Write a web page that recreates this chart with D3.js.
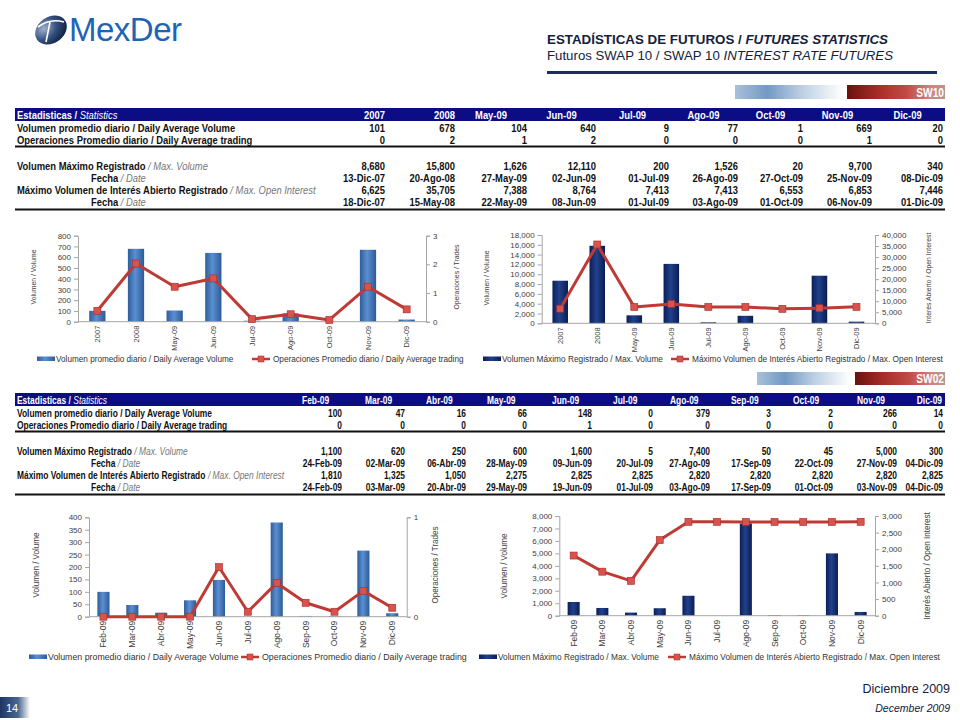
<!DOCTYPE html>
<meta charset="utf-8">
<body style="margin:0;background:#fff">
<script src="https://d3js.org/d3.v7.min.js"></script>
<script>

// SW10 data
var sw10Periods = ['2007','2008','May-09','Jun-09','Jul-09','Ago-09','Oct-09','Nov-09','Dic-09'];
var sw10AvgVolume = [101, 678, 104, 640, 9, 77, 1, 669, 20];
var sw10AvgTrades = [0, 2, 1, 2, 0, 0, 0, 1, 0];
var sw10AvgTradesChart = [0.38, 2.03, 1.22, 1.51, 0.09, 0.26, 0.06, 1.22, 0.43];
var sw10MaxVolume = [8680, 15800, 1626, 12110, 200, 1526, 20, 9700, 340];
var sw10MaxVolumeDate = ['13-Dic-07','20-Ago-08','27-May-09','02-Jun-09','01-Jul-09','26-Ago-09','27-Oct-09','25-Nov-09','08-Dic-09'];
var sw10MaxOI = [6625, 35705, 7388, 8764, 7413, 7413, 6553, 6853, 7446];
var sw10MaxOIDate = ['18-Dic-07','15-May-08','22-May-09','08-Jun-09','01-Jul-09','03-Ago-09','01-Oct-09','06-Nov-09','01-Dic-09'];

// SW02 data
var sw02Periods = ['Feb-09','Mar-09','Abr-09','May-09','Jun-09','Jul-09','Ago-09','Sep-09','Oct-09','Nov-09','Dic-09'];
var sw02AvgVolume = [100, 47, 16, 66, 148, 0, 379, 3, 2, 266, 14];
var sw02AvgTrades = [0, 0, 0, 0, 1, 0, 0, 0, 0, 0, 0];
var sw02AvgTradesChart = [0, 0, 0, 0, 0.5, 0.05, 0.34, 0.14, 0.05, 0.26, 0.09];
var sw02MaxVolume = [1100, 620, 250, 600, 1600, 5, 7400, 50, 45, 5000, 300];
var sw02MaxVolumeDate = ['24-Feb-09','02-Mar-09','06-Abr-09','28-May-09','09-Jun-09','20-Jul-09','27-Ago-09','17-Sep-09','22-Oct-09','27-Nov-09','04-Dic-09'];
var sw02MaxOI = [1810, 1325, 1050, 2275, 2825, 2825, 2820, 2820, 2820, 2820, 2825];
var sw02MaxOIDate = ['24-Feb-09','03-Mar-09','20-Abr-09','29-May-09','19-Jun-09','01-Jul-09','03-Ago-09','17-Sep-09','01-Oct-09','03-Nov-09','04-Dic-09'];

// axis ticks
var c1Ticks = [0,100,200,300,400,500,600,700,800], c1Ticks2 = [0,1,2,3];
var c2Ticks = [0,2000,4000,6000,8000,10000,12000,14000,16000,18000], c2Ticks2 = [0,5000,10000,15000,20000,25000,30000,35000,40000];
var c3Ticks = [0,50,100,150,200,250,300,350,400], c3Ticks2 = [0,1];
var c4Ticks = [0,1000,2000,3000,4000,5000,6000,7000,8000], c4Ticks2 = [0,500,1000,1500,2000,2500,3000];

var NAVY = '#0c0c84';
var FN = '"Liberation Sans Narrow","Arial Narrow","Liberation Sans",Arial,sans-serif';
var FS = '"Liberation Sans",Arial,sans-serif';
var fmt = d3.format(',');

var svg = d3.select('body').append('svg')
    .attr('width', 960).attr('height', 720)
    .style('font-family', FS);
svg.append('rect').attr('width', 960).attr('height', 720).attr('fill', '#fff');
var defs = svg.append('defs');

// no narrow face installed: squeeze the glyphs instead
function squeeze(sel, k) {
  sel.each(function() {
    var w = this.getComputedTextLength();
    d3.select(this).attr('textLength', w * k).attr('lengthAdjust', 'spacingAndGlyphs');
  });
  return sel;
}

// text drawn at (x,y), narrowed by a horizontal scale; returns its width
function narrowText(g, x, y, s, k, anchor) {
  var t = g.append('text').attr('transform', 'translate(' + x + ',' + y + ') scale(' + k + ',1)')
    .attr('text-anchor', anchor || 'start').text(s);
  t.w = t.node().getComputedTextLength() * k;
  return t;
}

// bold label followed by a lighter italic part
function labelPair(g, x, y, main, alt, k, col, altCol) {
  var a = narrowText(g, x, y, main, k).attr('fill', col);
  if (!alt) return;
  narrowText(g, x + a.w + 2.5, y, alt, k).attr('fill', altCol)
    .attr('font-style', 'italic').attr('font-weight', 'normal');
}

function grad(id, stops) {
  var g = defs.append('linearGradient').attr('id', id)
    .attr('x1', 0).attr('y1', 0).attr('x2', 1).attr('y2', 0);
  stops.forEach(s => g.append('stop').attr('offset', s[0]).attr('stop-color', s[1]));
}
grad('gBlue', [[0,'#a9c0da'],[0.3,'#7399c4'],[0.6,'#b9cde2'],[1,'#ffffff']]);
grad('gRed', [[0,'#6a120e'],[0.3,'#a52b26'],[0.6,'#c24a45'],[0.85,'#cf8580'],[1,'#b89590']]);
grad('gBar1', [[0,'#2e5d9c'],[0.45,'#5b8fd1'],[1,'#2c5a98']]);
grad('gBar2', [[0,'#0b1f5a'],[0.45,'#22418a'],[1,'#0a1c55']]);
grad('gFoot', [[0,'#1d3563'],[0.6,'#4a6690'],[1,'#ffffff']]);
var rg = defs.append('radialGradient').attr('id', 'gLogo').attr('cx', 0.35).attr('cy', 0.3).attr('r', 0.8);
rg.append('stop').attr('offset', 0).attr('stop-color', '#9fb2cc');
rg.append('stop').attr('offset', 0.5).attr('stop-color', '#34507e');
rg.append('stop').attr('offset', 1).attr('stop-color', '#0d1b3a');

// logo
var logo = svg.append('g');
logo.append('ellipse').attr('cx', 51).attr('cy', 30).attr('rx', 17).attr('ry', 13)
  .attr('transform', 'rotate(-35,51,30)').attr('fill', 'url(#gLogo)');
logo.append('path').attr('d', 'M38,27 Q50,18 64,22 M50,22 L46,42')
  .attr('fill', 'none').attr('stroke', '#fff').attr('stroke-width', 1.6);
logo.append('text').attr('x', 69).attr('y', 41).text('MexDer')
  .attr('font-size', 33).attr('fill', '#1d63b8').attr('font-family', FS).attr('letter-spacing', -0.5);

// titles
var tt = svg.append('text').attr('x', 547).attr('y', 44).attr('font-family', FN)
  .attr('font-size', 13).attr('font-weight', 'bold').attr('fill', '#14213d')
  .attr('textLength', 341).attr('lengthAdjust', 'spacingAndGlyphs');
tt.append('tspan').text('ESTADÍSTICAS DE FUTUROS / ');
tt.append('tspan').text('FUTURES STATISTICS').attr('font-style', 'italic');
var st = svg.append('text').attr('x', 547).attr('y', 60).attr('font-family', FN)
  .attr('font-size', 13).attr('fill', '#14213d')
  .attr('textLength', 346).attr('lengthAdjust', 'spacingAndGlyphs');
st.append('tspan').text('Futuros SWAP 10 / SWAP 10 ');
st.append('tspan').text('INTEREST RATE FUTURES').attr('font-style', 'italic');
svg.append('line').attr('x1', 547).attr('x2', 937).attr('y1', 72.5).attr('y2', 72.5)
  .attr('stroke', '#1a2f5a').attr('stroke-width', 3);

function drawBand(b) {
  svg.append('rect').attr('x', b.bx).attr('y', b.y).attr('width', b.bw).attr('height', b.h).attr('fill', 'url(#gBlue)');
  svg.append('rect').attr('x', b.rx).attr('y', b.y).attr('width', b.rw).attr('height', b.h).attr('fill', 'url(#gRed)');
  narrowText(svg, b.rx + b.rw - 1, b.y + b.h - 2.5, b.label, 0.85, 'end')
    .attr('font-family', FN).attr('font-weight', 'bold').attr('font-size', 12).attr('fill', '#fff');
}
drawBand({bx: 735, bw: 108, rx: 847, rw: 98, y: 85, h: 14, label: 'SW10'});
drawBand({bx: 757, bw: 93, rx: 855, rw: 90, y: 372, h: 13, label: 'SW02'});

function drawTable(t) {
  var g = svg.append('g').attr('font-family', FN).attr('font-size', t.fs).attr('font-weight', 'bold');
  g.append('rect').attr('x', 15).attr('y', t.top).attr('width', 930).attr('height', 13).attr('fill', NAVY);
  labelPair(g, 17, t.top + 10.5, 'Estadisticas /', 'Statistics', t.k, '#fff', '#fff');
  t.cols.forEach((c, i) => {
    var p = t.headPos(i);
    narrowText(g, p.x, t.top + 10.5, c, t.k, p.a).attr('fill', '#fff');
  });
  t.rows.forEach(r => {
    labelPair(g, r.x, t.top + r.dy, r.main, r.alt, t.k, '#111', '#777');
    r.vals.forEach((v, i) => {
      narrowText(g, t.rights[i], t.top + r.dy, typeof v === 'number' ? fmt(v) : v, t.k, 'end')
        .attr('fill', '#111');
    });
  });
  [t.top + 38.5, t.top + 101.5].forEach(y => {
    g.append('line').attr('x1', 15).attr('x2', 945).attr('y1', y).attr('y2', y)
      .attr('stroke', '#111').attr('stroke-width', 1.8);
  });
}

function tableRows(avgV, avgT, maxV, maxVD, maxOI, maxOID) {
  return [
    {dy: 24, x: 17, main: 'Volumen promedio diario / Daily Average Volume', vals: avgV},
    {dy: 36, x: 17, main: 'Operaciones Promedio diario / Daily Average trading', vals: avgT},
    {dy: 62, x: 17, main: 'Volumen Máximo Registrado', alt: '/ Max. Volume', vals: maxV},
    {dy: 74, x: 91, main: 'Fecha', alt: '/ Date', vals: maxVD},
    {dy: 86, x: 17, main: 'Máximo Volumen de Interés Abierto Registrado', alt: '/ Max. Open Interest', vals: maxOI},
    {dy: 98, x: 91, main: 'Fecha', alt: '/ Date', vals: maxOID}
  ];
}

var t1Rights = [385, 455, 527, 596, 669, 738, 803, 872, 943];
drawTable({
  top: 108, cols: sw10Periods, rights: t1Rights, fs: 11.5, k: 0.82,
  headPos: i => i < 2 ? {x: t1Rights[i], a: 'end'} : {x: (t1Rights[i-1] + t1Rights[i]) / 2, a: 'middle'},
  rows: tableRows(sw10AvgVolume, sw10AvgTrades, sw10MaxVolume, sw10MaxVolumeDate, sw10MaxOI, sw10MaxOIDate)
});
var t2Rights = [342, 405, 466, 527, 592, 653, 710, 771, 833, 897, 943];
drawTable({
  top: 393, cols: sw02Periods, rights: t2Rights, fs: 10.8, k: 0.78,
  headPos: i => i === t2Rights.length - 1 ? {x: t2Rights[i] - 1, a: 'end'} : {x: t2Rights[i] - 40, a: 'start'},
  rows: tableRows(sw02AvgVolume, sw02AvgTrades, sw02MaxVolume, sw02MaxVolumeDate, sw02MaxOI, sw02MaxOIDate)
});

function drawChart(c) {
  var g = svg.append('g').attr('font-family', FS);
  var x = d3.scaleBand().domain(c.cats).range([c.x0, c.x1]).paddingInner(0.58).paddingOuter(0.29);
  var y = d3.scaleLinear().domain([0, c.ticks[c.ticks.length - 1]]).range([c.yBot, c.yTop]);
  var y2 = d3.scaleLinear().domain([0, c.ticks2[c.ticks2.length - 1]]).range([c.yBot, c.yTop]);

  g.selectAll('.bar').data(c.bars).enter().append('rect')
    .attr('x', (d, i) => x(c.cats[i]))
    .attr('y', d => y(d))
    .attr('width', x.bandwidth())
    .attr('height', d => c.yBot - y(d))
    .attr('fill', c.barFill);

  var ax = g.append('g').attr('transform', 'translate(' + c.x0 + ',0)')
    .call(d3.axisLeft(y).tickValues(c.ticks).tickSize(4).tickPadding(3).tickFormat(fmt));
  var ax2 = g.append('g').attr('transform', 'translate(' + c.x1 + ',0)')
    .call(d3.axisRight(y2).tickValues(c.ticks2).tickSize(4).tickPadding(3).tickFormat(fmt));
  [ax, ax2].forEach(a => {
    a.select('.domain').attr('stroke', '#a6a6a6');
    a.selectAll('.tick line').attr('stroke', '#a6a6a6');
    a.selectAll('text').attr('fill', '#404040').attr('font-size', 8).attr('font-family', FS);
  });
  g.append('line').attr('x1', c.x0).attr('x2', c.x1).attr('y1', c.yBot).attr('y2', c.yBot)
    .attr('stroke', '#a6a6a6');

  c.cats.forEach(d => {
    g.append('text').text(d).attr('text-anchor', 'end').attr('dy', '0.35em')
      .attr('transform', 'translate(' + (x(d) + x.bandwidth() / 2) + ',' + (c.yBot + 4) + ') rotate(-90)')
      .attr('font-size', c.xFs).attr('fill', '#404040').attr('font-family', FN);
  });

  var line = d3.line().x((d, i) => x(c.cats[i]) + x.bandwidth() / 2).y(d => y2(d));
  g.append('path').datum(c.line).attr('d', line).attr('fill', 'none')
    .attr('stroke', '#be3a35').attr('stroke-width', 3).attr('stroke-linejoin', 'round');
  g.selectAll('.mk').data(c.line).enter().append('rect')
    .attr('x', (d, i) => x(c.cats[i]) + x.bandwidth() / 2 - 3.5)
    .attr('y', d => y2(d) - 3.5)
    .attr('width', 7).attr('height', 7)
    .attr('fill', '#d9534e').attr('stroke', '#a52a25').attr('stroke-width', 0.6);

  [[c.lt, c.ltX], [c.rt, c.rtX]].forEach(p => {
    squeeze(g.append('text').text(p[0]).attr('text-anchor', 'middle').attr('dy', '0.35em')
      .attr('transform', 'translate(' + p[1] + ',' + c.tY + ') rotate(-90)')
      .attr('font-size', c.tFs).attr('fill', '#404040').attr('font-family', FN), 0.85);
  });

  // legend
  g.append('rect').attr('x', c.lg[0]).attr('y', c.lgY - 2.5).attr('width', 18).attr('height', 4.5).attr('fill', c.barFill);
  g.append('text').attr('x', c.lg[0] + 19).attr('y', c.lgY + 3).text(c.lgBar)
    .attr('font-size', c.lgFs).attr('fill', '#333');
  g.append('line').attr('x1', c.lg[1]).attr('x2', c.lg[1] + 18).attr('y1', c.lgY).attr('y2', c.lgY)
    .attr('stroke', '#be3a35').attr('stroke-width', 2.5);
  g.append('rect').attr('x', c.lg[1] + 6).attr('y', c.lgY - 3).attr('width', 6).attr('height', 6)
    .attr('fill', '#d9534e').attr('stroke', '#a52a25').attr('stroke-width', 0.5);
  g.append('text').attr('x', c.lg[1] + 21).attr('y', c.lgY + 3).text(c.lgLine)
    .attr('font-size', c.lgFs).attr('fill', '#333');
}

var lgAvgV = 'Volumen promedio diario / Daily Average Volume';
var lgAvgT = 'Operaciones Promedio diario / Daily Average trading';
var lgMaxV = 'Volumen Máximo Registrado / Max. Volume';
var lgMaxOI = 'Máximo Volumen de Interés Abierto Registrado / Max. Open Interest';

drawChart({cats: sw10Periods, bars: sw10AvgVolume, line: sw10AvgTradesChart, ticks: c1Ticks, ticks2: c1Ticks2,
  x0: 78, x1: 426, yTop: 235.7, yBot: 321.7, barFill: 'url(#gBar1)', xFs: 7.5, tFs: 8,
  lt: 'Volumen / Volume', ltX: 33, rt: 'Operaciones / Trades', rtX: 456, tY: 277,
  lg: [37, 252], lgY: 359, lgFs: 8.2, lgBar: lgAvgV, lgLine: lgAvgT});
drawChart({cats: sw10Periods, bars: sw10MaxVolume, line: sw10MaxOI, ticks: c2Ticks, ticks2: c2Ticks2,
  x0: 541.7, x1: 875, yTop: 235, yBot: 323.3, barFill: 'url(#gBar2)', xFs: 7.5, tFs: 8,
  lt: 'Volumen / Volume', ltX: 486, rt: 'Interés Abierto / Open Interest', rtX: 928, tY: 278,
  lg: [483, 671], lgY: 359, lgFs: 8.3, lgBar: lgMaxV, lgLine: lgMaxOI});
drawChart({cats: sw02Periods, bars: sw02AvgVolume, line: sw02AvgTradesChart, ticks: c3Ticks, ticks2: c3Ticks2,
  x0: 89, x1: 406.7, yTop: 517.3, yBot: 616.7, barFill: 'url(#gBar1)', xFs: 8.5, tFs: 9.5,
  lt: 'Volumen / Volume', ltX: 36, rt: 'Operaciones / Trades', rtX: 435, tY: 565,
  lg: [29, 241], lgY: 657, lgFs: 8.8, lgBar: lgAvgV, lgLine: lgAvgT});
drawChart({cats: sw02Periods, bars: sw02MaxVolume, line: sw02MaxOI, ticks: c4Ticks, ticks2: c4Ticks2,
  x0: 559.3, x1: 875, yTop: 516, yBot: 615.7, barFill: 'url(#gBar2)', xFs: 8.5, tFs: 9.5,
  lt: 'Volumen / Volume', ltX: 504, rt: 'Interés Abierto / Open Interest', rtX: 927, tY: 566,
  lg: [479, 668], lgY: 657, lgFs: 8.3, lgBar: lgMaxV, lgLine: lgMaxOI});

// footer
svg.append('rect').attr('x', 0).attr('y', 697).attr('width', 30).attr('height', 21).attr('fill', 'url(#gFoot)');
svg.append('text').attr('x', 6).attr('y', 712).text('14').attr('font-family', FN)
  .attr('font-size', 11).attr('fill', '#fff');
svg.append('text').attr('x', 950).attr('y', 693).attr('text-anchor', 'end').text('Diciembre 2009')
  .attr('font-family', FN).attr('font-size', 12.5).attr('fill', '#14213d');
svg.append('text').attr('x', 950).attr('y', 712).attr('text-anchor', 'end').text('December 2009')
  .attr('font-family', FN).attr('font-style', 'italic').attr('font-size', 10.5).attr('fill', '#14213d');
</script>
</body>
